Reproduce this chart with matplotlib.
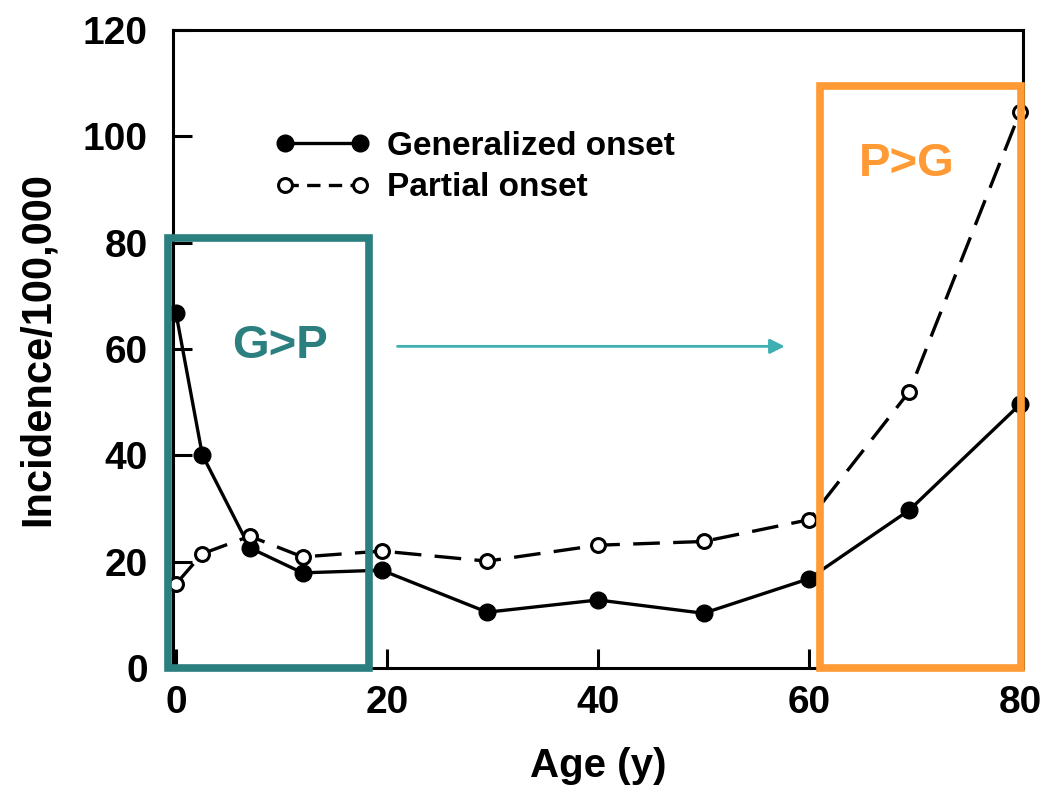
import matplotlib
matplotlib.use("Agg")
import matplotlib.pyplot as plt
from matplotlib.patches import Rectangle
from matplotlib.lines import Line2D

plt.rcParams['font.family'] = ['Liberation Sans', 'DejaVu Sans']
plt.rcParams['font.weight'] = 'bold'

# age group midpoints (years) and incidence per 100,000
ages = [0, 2.5, 7, 12, 19.5, 29.5, 40, 50, 60, 69.5, 80]
generalized = [66.8, 40.1, 22.6, 17.9, 18.4, 10.5, 12.8, 10.3, 16.8, 29.7, 49.6]
partial = [15.8, 21.5, 24.8, 20.9, 22.0, 20.1, 23.1, 23.8, 27.9, 52.0, 104.6]

xticks = [0, 20, 40, 60, 80]
yticks = [0, 20, 40, 60, 80, 100, 120]

TEAL = '#2b7f7e'
ARROW = '#3fb0b2'
ORANGE = '#ff9a35'

fig = plt.figure(figsize=(10.56, 7.86), dpi=100)
ax = fig.add_axes([0.1638, 0.1501, 0.8050, 0.8117])

ax.plot(ages, generalized, color='black', lw=2.4, marker='o', ms=12,
        mfc='black', mec='black', clip_on=False, zorder=3)
ax.plot(ages, partial, color='black', lw=2.4, dashes=(8, 4), marker='o',
        ms=10, mfc='white', mec='black', mew=2.2, clip_on=False, zorder=3)

ax.set_xlim(-0.28, 80.28)
ax.set_ylim(0, 120)
ax.set_xticks(xticks)
ax.set_yticks(yticks)
ax.tick_params(direction='in', length=14, width=2.2, labelsize=28)
ax.tick_params(axis='x', pad=12)
ax.tick_params(axis='y', pad=18)
for s in ax.spines.values():
    s.set_linewidth(2.2)

ax.set_xlabel('Age (y)', fontsize=29, fontweight='bold', labelpad=19)
ax.set_ylabel('Incidence/100,000', fontsize=30, fontweight='bold', labelpad=18)

# legend, markers on both ends of the line
h1 = Line2D([], [], color='black', lw=2.4, marker='o', ms=12)
h2 = Line2D([], [], color='black', lw=2.4, dashes=(4, 2.5), marker='o', ms=10,
            mfc='white', mew=2.2)
ax.legend([h1, h2], ['Generalized onset', 'Partial onset'], numpoints=2,
          loc='upper left', bbox_to_anchor=(0.12, 0.842), frameon=False,
          fontsize=24, handlelength=2.85, handletextpad=0.5,
          borderpad=0, borderaxespad=0, labelspacing=0.32)

# highlight boxes
ax.add_patch(Rectangle((-0.75, 0), 19.0, 80.8, fill=False, ec=TEAL, lw=5.5,
                       clip_on=False, zorder=5))
ax.add_patch(Rectangle((61.0, 0), 19.1, 109.5, fill=False, ec=ORANGE, lw=5.5,
                       clip_on=False, zorder=5))
ax.text(9.9, 60.5, 'G>P', color=TEAL, fontsize=34, fontweight='bold',
        ha='center', va='center', zorder=6)
ax.text(69.3, 94.8, 'P>G', color=ORANGE, fontsize=34, fontweight='bold',
        ha='center', va='center', zorder=6)
ax.annotate('', xy=(57.7, 60.5), xytext=(21.0, 60.5),
            arrowprops=dict(arrowstyle='-|>', color=ARROW, lw=2,
                            mutation_scale=22, shrinkA=0, shrinkB=0))

fig.savefig('out.png', dpi=100)
